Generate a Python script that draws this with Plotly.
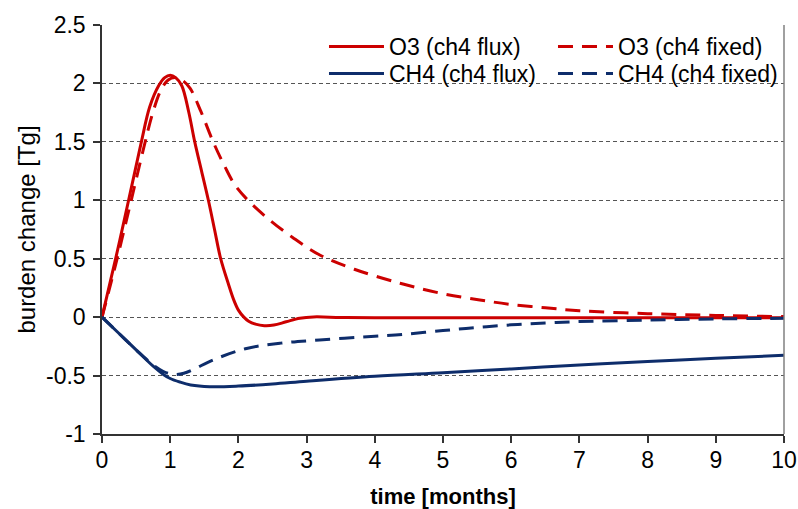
import plotly.graph_objects as go

# ---- data ----
t_o3_flux = [0, 0.2, 0.39, 0.57, 0.7, 0.83, 0.92, 1.0, 1.08, 1.17, 1.27, 1.36, 1.46,
             1.56, 1.65, 1.74, 1.85, 1.93, 2.0, 2.08, 2.15, 2.25, 2.38, 2.52, 2.7,
             2.9, 3.1, 3.5, 4, 5, 6, 7, 8, 9, 10]
o3_flux = [0, 0.5, 1.0, 1.48, 1.8, 1.98, 2.05, 2.07, 2.05, 1.98, 1.76, 1.5, 1.25,
           1.0, 0.75, 0.5, 0.29, 0.15, 0.06, 0.0, -0.035, -0.06, -0.073, -0.068, -0.04,
           -0.01, 0.002, -0.003, -0.005, -0.005, -0.005, -0.005, -0.005, -0.005, -0.005]

t_o3_fixed = [0, 0.2, 0.4, 0.6, 0.75, 0.87, 0.97, 1.07, 1.17, 1.29, 1.45, 1.63, 1.8,
              1.95, 2.14, 2.44, 2.8, 3.2, 3.7, 4.37, 5.0, 5.54, 5.98, 6.5, 7, 8, 9, 10]
o3_fixed = [0, 0.45, 0.93, 1.42, 1.76, 1.95, 2.03, 2.05, 2.03, 1.96, 1.76, 1.5, 1.29,
            1.13, 1.0, 0.84, 0.68, 0.53, 0.41, 0.29, 0.2, 0.147, 0.11, 0.08, 0.055,
            0.03, 0.015, 0.005]

t_ch4_flux = [0, 0.25, 0.5, 0.75, 0.9, 1.0, 1.14, 1.3, 1.58, 2.0, 2.5, 3.0, 4.0,
              5, 6, 7, 8, 9, 10]
ch4_flux = [0, -0.14, -0.28, -0.42, -0.49, -0.525, -0.555, -0.58, -0.595, -0.59, -0.572,
            -0.548, -0.505, -0.475, -0.443, -0.41, -0.38, -0.352, -0.326]

t_ch4_fixed = [0, 0.25, 0.5, 0.75, 0.9, 1.0, 1.1, 1.2, 1.35, 1.63, 2.12, 2.61, 3.19,
               4.0, 4.4, 5.0, 5.5, 6, 6.5, 7, 8, 9, 10]
ch4_fixed = [0, -0.14, -0.28, -0.41, -0.465, -0.485, -0.49, -0.48, -0.445, -0.366,
             -0.268, -0.223, -0.195, -0.163, -0.148, -0.115, -0.088, -0.066, -0.05,
             -0.038, -0.025, -0.015, -0.01]

x_ticks = [0, 1, 2, 3, 4, 5, 6, 7, 8, 9, 10]
y_ticks = [-1, -0.5, 0, 0.5, 1, 1.5, 2, 2.5]
y_tick_text = ["-1", "-0.5", "0", "0.5", "1", "1.5", "2", "2.5"]

RED = "#CC0000"
BLUE = "#0E2D6B"
FONT = "Liberation Sans, Arial, sans-serif"
DASH = "15px,9px"

fig = go.Figure()
fig.add_trace(go.Scatter(x=t_o3_flux, y=o3_flux, name="O3 (ch4 flux)", mode="lines",
                         legend="legend",
                         line=dict(color=RED, width=3, shape="spline", smoothing=1.0)))
fig.add_trace(go.Scatter(x=t_o3_fixed, y=o3_fixed, name="O3 (ch4 fixed)", mode="lines",
                         legend="legend",
                         line=dict(color=RED, width=3, dash=DASH, shape="spline", smoothing=1.0)))
fig.add_trace(go.Scatter(x=t_ch4_flux, y=ch4_flux, name="CH4 (ch4 flux)", mode="lines",
                         legend="legend2",
                         line=dict(color=BLUE, width=3, shape="spline", smoothing=1.0)))
fig.add_trace(go.Scatter(x=t_ch4_fixed, y=ch4_fixed, name="CH4 (ch4 fixed)", mode="lines",
                         legend="legend2",
                         line=dict(color=BLUE, width=3, dash=DASH, shape="spline", smoothing=1.0)))

legend_common = dict(orientation="h", x=0.3255, xanchor="left", yanchor="top",
                     bgcolor="rgba(0,0,0,0)", font=dict(size=23),
                     entrywidth=159, entrywidthmode="pixels", traceorder="normal",
                     itemwidth=55)

fig.update_layout(
    width=798, height=509,
    margin=dict(l=102, r=14, t=25, b=75, autoexpand=False),
    paper_bgcolor="white", plot_bgcolor="white",
    font=dict(family=FONT, size=23, color="black"),
    showlegend=True,
    legend=dict(legend_common, y=1.0),
    legend2=dict(legend_common, y=0.934),
    xaxis=dict(range=[0, 10], tickvals=x_ticks, showgrid=False, zeroline=False,
               showline=True, linecolor="#333333", linewidth=1.5,
               ticks="outside", ticklen=7, tickcolor="#333333", tickwidth=1.5,
               ticklabelstandoff=-2, tickfont=dict(size=23),
               title=dict(text="<b>time [months]</b>", font=dict(size=22), standoff=22)),
    yaxis=dict(range=[-1, 2.5], tickvals=y_ticks, ticktext=y_tick_text,
               showgrid=True, gridcolor="#555555", gridwidth=1, griddash="4px,3px",
               zeroline=False, showline=True, linecolor="#333333", linewidth=1.5,
               ticks="outside", ticklen=7, tickcolor="#333333", tickwidth=1.5,
               ticklabelstandoff=3, tickfont=dict(size=23),
               title=dict(text="burden change [Tg]", font=dict(size=24), standoff=4)),
    shapes=[dict(type="line", xref="paper", yref="paper", x0=1, x1=1, y0=0, y1=1,
                 line=dict(color="#808080", width=1.5))],
)

fig.write_html("out.html")
